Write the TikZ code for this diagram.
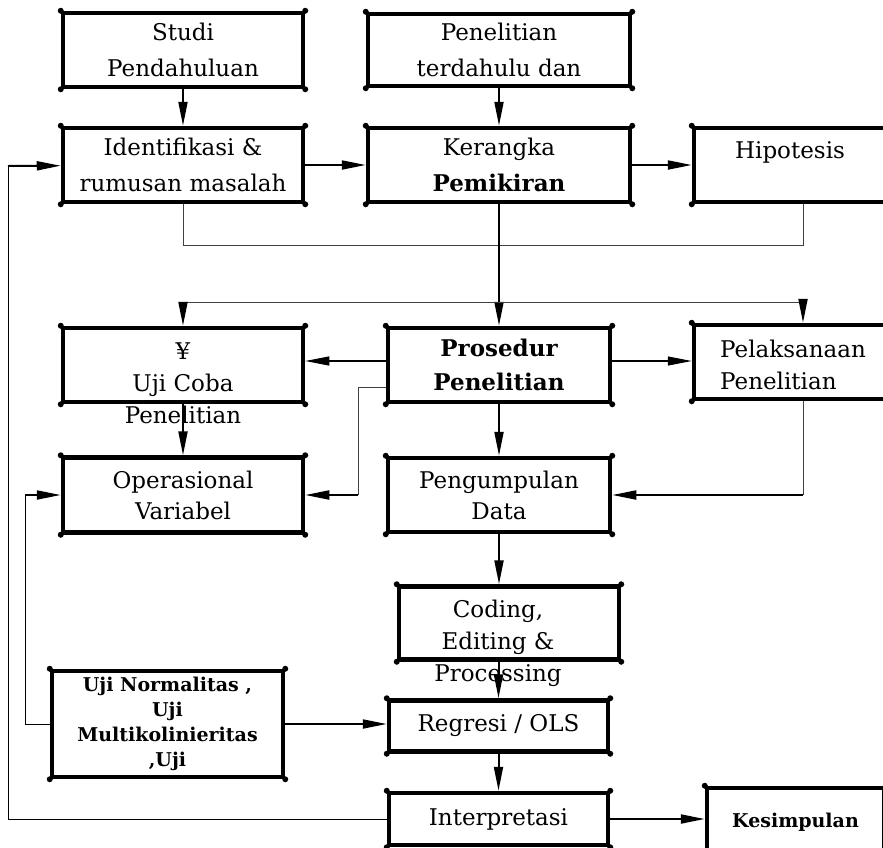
\documentclass[tikz,border=0pt]{standalone}
\usepackage{fontspec}
\setmainfont{DejaVu Serif}
\usetikzlibrary{arrows.meta}

\tikzset{kotak/.style = {draw, line width=4.5pt, minimum width=#1, minimum height=74pt,
                         inner sep=0pt, align=center, font=\fontsize{23}{36}\selectfont},
         kotak/.default=240pt,
         teks/.style = {inner sep=0pt, align=center, font=\fontsize{23}{32}\selectfont},
         kecil/.style = {font=\fontsize{19}{25}\selectfont\bfseries},
         panah/.style = {line width=2pt, -{Triangle[length=24pt,width=9pt]}},
         garis/.style = {line width=0.9pt, draw=black!75},
         luar/.style = {line width=1pt}
        }

\begin{document}
\begin{tikzpicture}[x=1pt, y=-1pt]
  \useasboundingbox (0,0) rectangle (883,847);
  \clip (0,0) rectangle (883,847);

  \node[kotak] (studi) at (183,50) {Studi\\Pendahuluan};
  \node[kotak=262pt, minimum height=72pt] (pen) at (499,50) {Penelitian\\terdahulu dan};
  \node[kotak] (ident) at (183,165) {Identifikasi \&\\rumusan masalah};
  \node[kotak=262pt] (kerangka) at (499,165) {Kerangka\\\textbf{Pemikiran}};
  \node[kotak=201pt] (hipo) at (794.5,165) {};
  \node[teks] (hipot) at (790,152) {Hipotesis};

  \node[kotak] (uji) at (183,365) {};
  \node[teks] (ujit) at (183,383) {¥\\Uji Coba\\Penelitian};
  \node[kotak=222pt, font=\fontsize{23}{34}\selectfont\bfseries] (prosedur) at (499,365) {Prosedur\\Penelitian};
  \node[kotak=201pt] (pelak) at (794.5,362) {};
  \node[teks, align=left, anchor=west] (pelakt) at (720,365) {Pelaksanaan\\Penelitian};

  \node[kotak, minimum height=75pt, font=\fontsize{23}{31}\selectfont] (opvar) at (183,495) {Operasional\\Variabel};
  \node[kotak=222pt, font=\fontsize{23}{31}\selectfont] (pengum) at (499,495) {Pengumpulan\\Data};

  \node[kotak=220pt, minimum height=73pt] (coding) at (509,623) {};
  \node[teks] (codingt) at (498,643) {Coding,\\Editing \&\\Processing};
  \node[kotak=231pt, minimum height=106pt, kecil] (ujinorm) at (167.5,724) {Uji Normalitas ,\\Uji\\Multikolinieritas\\,Uji};
  \node[kotak=219pt, minimum height=51pt] (regresi) at (498.5,726) {Regresi / OLS};
  \node[kotak=219pt, minimum height=52pt] (interp) at (498.5,819) {Interpretasi};
  \node[kotak=177pt, minimum height=68pt, kecil] (kesim) at (795.5,822) {Kesimpulan};

  \foreach \n in {studi,pen,ident,kerangka,hipo,uji,prosedur,pelak,opvar,pengum,coding,ujinorm,regresi,interp,kesim}
    \foreach \a in {north west,north east,south west,south east}
      \fill (\n.\a) circle (3pt);

  \coordinate (c1) at (803,245);
  \coordinate (c2) at (183,302);
  \coordinate (c3) at (803,302);
  \coordinate (c4) at (358,495);
  \coordinate (c5) at (803,495);
  \coordinate (c6) at (25,495);
  \coordinate (c7) at (8,166);

  \draw[panah] (studi) -- (ident);
  \draw[panah] (pen) -- (kerangka);
  \draw[panah] (ident) -- (kerangka);
  \draw[panah] (kerangka) -- (hipo);
  \draw[garis] (ident.south) |- (c1) -- (hipo.south -| c1);
  \draw[panah] (kerangka) -- (prosedur);
  \draw[garis] (c2) -- (c3);
  \draw[panah] (c2) -- (uji);
  \draw[panah] (c3) -- (pelak.north -| c3);
  \draw[panah, line width=1.2pt] ([yshift=4pt]prosedur.west) -- ([yshift=4pt]uji.east);
  \draw[panah, line width=1.2pt] ([yshift=4pt]prosedur.east) -- ([yshift=4pt]prosedur.east -| pelak.west);
  \draw[garis] ([yshift=-22pt]prosedur.west) -| (c4);
  \draw[panah] (c4) -- (opvar);
  \draw[panah] (prosedur) -- (pengum);
  \draw[garis] (pelak.south -| c5) -- (c5);
  \draw[panah] (c5) -- (pengum);
  \draw[panah] (uji) -- (opvar);
  \draw[panah] (pengum) -- (coding.north -| pengum);
  \draw[panah] (coding.south -| regresi) -- (regresi);
  \draw[panah] (regresi) -- (interp);
  \draw[panah] (interp) -- (interp.east -| kesim.west);
  \draw[panah] (ujinorm.east) -- (ujinorm.east -| regresi.west);
  \draw[luar] (ujinorm.west) -| (c6);
  \draw[panah] (c6) -- (opvar);
  \draw[luar] (interp.west) -| (c7);
  \draw[panah] (c7) -- (ident);
\end{tikzpicture}
\end{document}
